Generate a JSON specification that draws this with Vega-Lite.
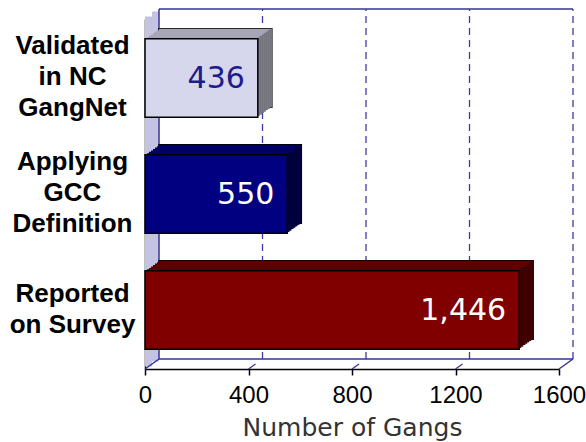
{
  "$schema": "https://vega.github.io/schema/vega-lite/v6.json",
  "width": 414,
  "height": 350,
  "autosize": {"type": "none"},
  "padding": {"left": 145, "top": 19, "right": 27, "bottom": 73},
  "background": "white",
  "config": {
    "view": {"stroke": null},
    "axisX": {"grid": false, "labelFlush": false, "domainColor": "black", "domainWidth": 1.5, "tickColor": "black", "tickSize": 6, "tickWidth": 1.5, "labelFont": "Liberation Sans", "labelFontSize": 24, "labelColor": "black", "labelPadding": 8, "titleFont": "DejaVu Sans", "titleFontSize": 25, "titleFontWeight": "normal", "titleColor": "#333333", "titlePadding": 8},
    "axisY": {"grid": false, "domainColor": "black", "domainWidth": 1.5, "ticks": false, "tickSize": 0, "labelFont": "Liberation Sans", "labelFontWeight": "bold", "labelFontSize": 26, "labelColor": "black", "labelAlign": "center", "labelBaseline": "middle", "labelPadding": 73, "labelLineHeight": 31, "labelLimit": 0}
  },
  "datasets": {
    "ticks": [{"tick": 400}, {"tick": 800}, {"tick": 1200}, {"tick": 1600}]
  },
  "data": {"values": [
    {"label": "Validated in NC GangNet", "value": 436},
    {"label": "Applying GCC Definition", "value": 550},
    {"label": "Reported on Survey", "value": 1446}
  ]},
  "resolve": {"scale": {"y": "independent"}},
  "layer": [
    {
      "layer": [
        {"data": {"values": [{}]}, "mark": {"type": "rect", "fill": "#c4c4e2", "x2Offset": 7, "yOffset": -2.5, "y2Offset": -2.5},
         "encoding": {"x": {"datum": 0, "type": "quantitative", "scale": {"domain": [0, 1600], "nice": false}}, "x2": {"datum": 0}, "y": {"datum": 0, "type": "quantitative", "scale": {"domain": [0, 350], "nice": false}, "axis": null}, "y2": {"datum": 350}}},
        {"data": {"values": [{}]}, "mark": {"type": "rect", "fill": "#c4c4e2", "xOffset": 7, "x2Offset": 14, "yOffset": -7.5, "y2Offset": -7.5},
         "encoding": {"x": {"datum": 0, "type": "quantitative"}, "x2": {"datum": 0}, "y": {"datum": 0, "type": "quantitative", "axis": null}, "y2": {"datum": 350}}},
        {"data": {"values": [{}]}, "mark": {"type": "rule", "stroke": "#333399", "strokeWidth": 1.5, "xOffset": 14, "yOffset": -10, "y2Offset": -10},
         "encoding": {"x": {"datum": 0, "type": "quantitative"}, "y": {"datum": 0, "type": "quantitative", "axis": null}, "y2": {"datum": 350}}},
        {"data": {"values": [{}]}, "mark": {"type": "rule", "stroke": "#333399", "strokeWidth": 1.5, "xOffset": 14, "x2Offset": 14, "yOffset": -10},
         "encoding": {"x": {"datum": 0, "type": "quantitative"}, "x2": {"datum": 1600}, "y": {"datum": 350, "type": "quantitative", "axis": null}}},
        {"data": {"values": [{}]}, "mark": {"type": "rule", "stroke": "#333399", "strokeWidth": 1.5, "xOffset": 14, "x2Offset": 14, "yOffset": -10},
         "encoding": {"x": {"datum": 0, "type": "quantitative"}, "x2": {"datum": 1600}, "y": {"datum": 0, "type": "quantitative", "axis": null}}},
        {"data": {"name": "ticks"}, "mark": {"type": "rule", "stroke": "#3c3ca0", "strokeWidth": 1.3, "strokeDash": [7, 5], "xOffset": 14, "yOffset": -10, "y2Offset": -10},
         "encoding": {"x": {"field": "tick", "type": "quantitative"}, "y": {"datum": 0, "type": "quantitative", "axis": null}, "y2": {"datum": 350}}},
        {"data": {"name": "ticks"}, "transform": [{"filter": "datum.tick < 1600"}], "mark": {"type": "rule", "stroke": "#333399", "strokeWidth": 1.2, "x2Offset": 7, "y2Offset": -5},
         "encoding": {"x": {"field": "tick", "type": "quantitative"}, "x2": {"field": "tick"}, "y": {"datum": 0, "type": "quantitative", "axis": null}, "y2": {"datum": 0}}},
        {"data": {"values": [{}]}, "mark": {"type": "rule", "stroke": "#333399", "strokeWidth": 1.5, "x2Offset": 14, "y2Offset": -10},
         "encoding": {"x": {"datum": 0, "type": "quantitative"}, "x2": {"datum": 0}, "y": {"datum": 0, "type": "quantitative", "axis": null}, "y2": {"datum": 0}}},
        {"data": {"values": [{}]}, "mark": {"type": "rule", "stroke": "#333399", "strokeWidth": 1.5, "x2Offset": 14, "y2Offset": -10},
         "encoding": {"x": {"datum": 1600, "type": "quantitative"}, "x2": {"datum": 1600}, "y": {"datum": 0, "type": "quantitative", "axis": null}, "y2": {"datum": 0}}}
      ]
    },
    {
      "encoding": {
        "x": {"field": "value", "type": "quantitative", "scale": {"domain": [0, 1600], "nice": false}, "axis": {"values": [0, 400, 800, 1200, 1600], "format": "d", "title": "Number of Gangs"}},
        "y": {"field": "label", "type": "nominal", "sort": null, "scale": {"paddingInner": 0.323, "paddingOuter": 0.17}, "axis": {"title": null, "labelOffset": {"condition": {"test": "datum.value === 'Reported on Survey'", "value": -16}, "value": -32}, "labelExpr": "datum.value === 'Validated in NC GangNet' ? ['Validated', 'in NC', 'GangNet'] : datum.value === 'Applying GCC Definition' ? ['Applying', 'GCC', 'Definition'] : ['Reported', 'on Survey']"}}
      },
      "layer": [
        {"mark": {"type": "bar", "xOffset": 14, "x2Offset": 14, "yOffset": -10, "fill": "white", "fillOpacity": 0, "stroke": "black", "strokeWidth": 1.5}},
        {"mark": {"type": "bar", "xOffset": 2, "x2Offset": 2, "yOffset": -1.43}, "encoding": {"fill": {"condition": [{"test": "datum.label === 'Validated in NC GangNet'", "value": "#a6a6b6"}, {"test": "datum.label === 'Applying GCC Definition'", "value": "#000064"}], "value": "#5e0000"}}},
        {"mark": {"type": "bar", "xOffset": 4, "x2Offset": 4, "yOffset": -2.86}, "encoding": {"fill": {"condition": [{"test": "datum.label === 'Validated in NC GangNet'", "value": "#a6a6b6"}, {"test": "datum.label === 'Applying GCC Definition'", "value": "#000064"}], "value": "#5e0000"}}},
        {"mark": {"type": "bar", "xOffset": 6, "x2Offset": 6, "yOffset": -4.29}, "encoding": {"fill": {"condition": [{"test": "datum.label === 'Validated in NC GangNet'", "value": "#a6a6b6"}, {"test": "datum.label === 'Applying GCC Definition'", "value": "#000064"}], "value": "#5e0000"}}},
        {"mark": {"type": "bar", "xOffset": 8, "x2Offset": 8, "yOffset": -5.71}, "encoding": {"fill": {"condition": [{"test": "datum.label === 'Validated in NC GangNet'", "value": "#a6a6b6"}, {"test": "datum.label === 'Applying GCC Definition'", "value": "#000064"}], "value": "#5e0000"}}},
        {"mark": {"type": "bar", "xOffset": 10, "x2Offset": 10, "yOffset": -7.14}, "encoding": {"fill": {"condition": [{"test": "datum.label === 'Validated in NC GangNet'", "value": "#a6a6b6"}, {"test": "datum.label === 'Applying GCC Definition'", "value": "#000064"}], "value": "#5e0000"}}},
        {"mark": {"type": "bar", "xOffset": 12, "x2Offset": 12, "yOffset": -8.57}, "encoding": {"fill": {"condition": [{"test": "datum.label === 'Validated in NC GangNet'", "value": "#a6a6b6"}, {"test": "datum.label === 'Applying GCC Definition'", "value": "#000064"}], "value": "#5e0000"}}},
        {"mark": {"type": "bar", "xOffset": 14, "x2Offset": 14, "yOffset": -10}, "encoding": {"fill": {"condition": [{"test": "datum.label === 'Validated in NC GangNet'", "value": "#a6a6b6"}, {"test": "datum.label === 'Applying GCC Definition'", "value": "#000064"}], "value": "#5e0000"}}},
        {"mark": {"type": "bar", "xOffset": 0, "x2Offset": 2, "yOffset": -1.43}, "encoding": {"x2": {"field": "value"}, "fill": {"condition": [{"test": "datum.label === 'Validated in NC GangNet'", "value": "#74747e"}, {"test": "datum.label === 'Applying GCC Definition'", "value": "#00003c"}], "value": "#3e0000"}}},
        {"mark": {"type": "bar", "xOffset": 2, "x2Offset": 4, "yOffset": -2.86}, "encoding": {"x2": {"field": "value"}, "fill": {"condition": [{"test": "datum.label === 'Validated in NC GangNet'", "value": "#74747e"}, {"test": "datum.label === 'Applying GCC Definition'", "value": "#00003c"}], "value": "#3e0000"}}},
        {"mark": {"type": "bar", "xOffset": 4, "x2Offset": 6, "yOffset": -4.29}, "encoding": {"x2": {"field": "value"}, "fill": {"condition": [{"test": "datum.label === 'Validated in NC GangNet'", "value": "#74747e"}, {"test": "datum.label === 'Applying GCC Definition'", "value": "#00003c"}], "value": "#3e0000"}}},
        {"mark": {"type": "bar", "xOffset": 6, "x2Offset": 8, "yOffset": -5.71}, "encoding": {"x2": {"field": "value"}, "fill": {"condition": [{"test": "datum.label === 'Validated in NC GangNet'", "value": "#74747e"}, {"test": "datum.label === 'Applying GCC Definition'", "value": "#00003c"}], "value": "#3e0000"}}},
        {"mark": {"type": "bar", "xOffset": 8, "x2Offset": 10, "yOffset": -7.14}, "encoding": {"x2": {"field": "value"}, "fill": {"condition": [{"test": "datum.label === 'Validated in NC GangNet'", "value": "#74747e"}, {"test": "datum.label === 'Applying GCC Definition'", "value": "#00003c"}], "value": "#3e0000"}}},
        {"mark": {"type": "bar", "xOffset": 10, "x2Offset": 12, "yOffset": -8.57}, "encoding": {"x2": {"field": "value"}, "fill": {"condition": [{"test": "datum.label === 'Validated in NC GangNet'", "value": "#74747e"}, {"test": "datum.label === 'Applying GCC Definition'", "value": "#00003c"}], "value": "#3e0000"}}},
        {"mark": {"type": "bar", "xOffset": 12, "x2Offset": 14, "yOffset": -10}, "encoding": {"x2": {"field": "value"}, "fill": {"condition": [{"test": "datum.label === 'Validated in NC GangNet'", "value": "#74747e"}, {"test": "datum.label === 'Applying GCC Definition'", "value": "#00003c"}], "value": "#3e0000"}}},
        {"mark": {"type": "bar", "stroke": "black", "strokeWidth": 1.5}, "encoding": {"fill": {"condition": [{"test": "datum.label === 'Validated in NC GangNet'", "value": "#d6d6ec"}, {"test": "datum.label === 'Applying GCC Definition'", "value": "#000080"}], "value": "#800000"}}},
        {"mark": {"type": "text", "align": "right", "baseline": "middle", "dx": -13, "dy": 1, "font": "DejaVu Sans", "fontSize": 30},
         "encoding": {"text": {"field": "value", "type": "quantitative", "format": ","}, "fill": {"condition": {"test": "datum.value < 500", "value": "#1c1c8c"}, "value": "white"}}}
      ]
    }
  ]
}
